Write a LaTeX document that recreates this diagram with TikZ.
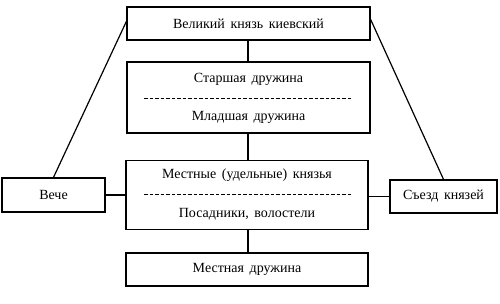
\documentclass[tikz,border=0pt]{standalone}
\usepackage{fontspec}
\setmainfont{Liberation Serif}[WordSpace={1.6}]
\begin{document}
\begin{tikzpicture}[x=1pt,y=-1pt,
  box/.style={draw,line width=1.3pt,inner sep=0pt},
  lab/.style={font=\fontsize{14}{16}\selectfont,inner sep=0pt},
  conn/.style={line width=1.2pt},
  sep/.style={line width=0.9pt,dash pattern=on 3.5pt off 2pt}]
\useasboundingbox (0,0) rectangle (500,303);
% boxes
\node[box,minimum width=243pt,minimum height=33pt] (top) at (248.5,23.5) {};
\node[lab] at (top) {Великий князь киевский};
\node[box,minimum width=243pt,minimum height=71pt] (dr) at (248.5,97.5) {};
\node[lab] (dr1) at (248.5,79) {Старшая дружина};
\node[lab] (dr2) at (248.5,117) {Младшая дружина};
\coordinate (d1a) at (144,98);
\coordinate (d1b) at (352,98);
\draw[sep] (d1a) -- (d1b);
\node[box,minimum width=242pt,minimum height=69pt] (kn) at (247,195) {};
\node[lab] (kn1) at (247,175) {Местные (удельные) князья};
\node[lab] (kn2) at (247,214) {Посадники, волостели};
\coordinate (d2a) at (144,194);
\coordinate (d2b) at (351,194);
\draw[sep] (d2a) -- (d2b);
\node[box,minimum width=242pt,minimum height=33pt] (md) at (247,269.5) {};
\node[lab] at (md) {Местная дружина};
\node[box,minimum width=103pt,minimum height=34pt] (ve) at (53.5,195) {};
\node[lab] at (ve) {Вече};
\node[box,minimum width=107pt,minimum height=33pt] (sk) at (443.5,196.5) {};
\node[lab] at (sk) {Съезд князей};
% connectors
\draw[conn] (top.south -| 248,0) -- (dr.north -| 248,0);
\draw[conn] (dr.south -| 248,0) -- (kn.north -| 248,0);
\draw[conn] (kn.south -| 248,0) -- (md.north -| 248,0);
\draw[conn] (ve.east) -- (kn.west |- ve.east);
\draw[conn] (sk.west) -- (kn.east |- sk.west);
\draw[conn] ([yshift=2pt]top.west) -- (ve.north);
\draw[conn] ([yshift=4pt]top.east) -- (sk.north);
\end{tikzpicture}
\end{document}
